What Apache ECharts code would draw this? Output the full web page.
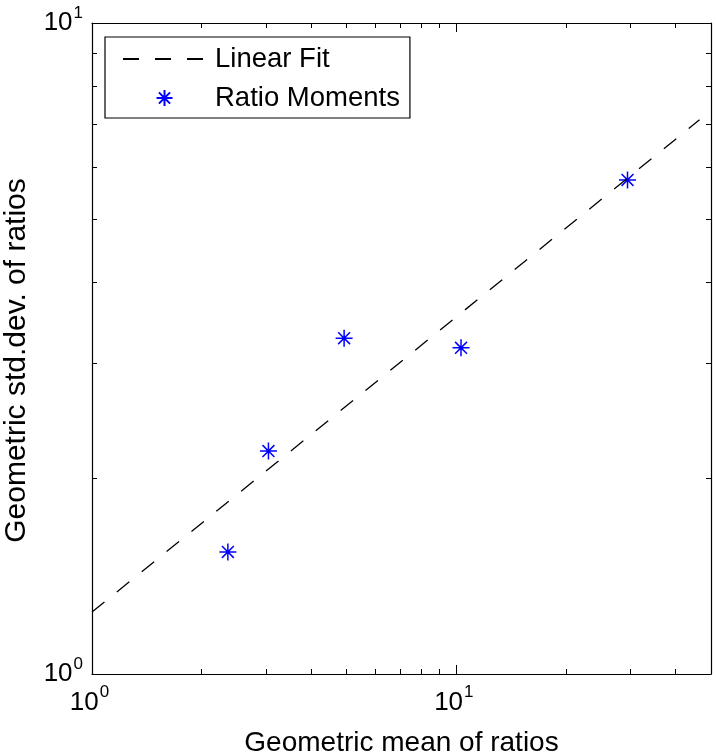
<!DOCTYPE html>
<html>
<head>
<meta charset="utf-8">
<script src="https://cdn.jsdelivr.net/npm/echarts@6/dist/echarts.min.js"></script>
<style>
html,body{margin:0;padding:0;background:#fff;}
#chart{width:716px;height:754px;}
</style>
</head>
<body>
<div id="chart"></div>
<script>
// ---- data ----
var meanRatios = [2.36, 3.05, 4.92, 10.3, 29.5];
var stdRatios  = [1.54, 2.20, 3.28, 3.17, 5.74];
var fitX = [1, 46.5];
var fitY = [1.245, 7.10];
var xMajorTicks = [1, 10];
var xMinorTicks = [2, 3, 4, 5, 6, 7, 8, 9, 20, 30, 40];
var yMajorTicks = [1, 10];
var yMinorTicks = [2, 3, 4, 5, 6, 7, 8, 9];
var xRange = [1, 50];
var yRange = [1, 10];
var legendNames = ['Linear Fit', 'Ratio Moments'];
var xTitle = 'Geometric mean of ratios';
var yTitle = 'Geometric std.dev. of ratios';

var FONT = '"Liberation Sans", Arial, Helvetica, sans-serif';
var chart = echarts.init(document.getElementById('chart'));

function powLabel(v) {
  var e = Math.round(Math.log(v) / Math.LN10);
  return '{b|10}{s|' + e + '}';
}
var richLbl = {
  b: {fontSize: 26, fontFamily: FONT, color: '#000'},
  s: {fontSize: 17, fontFamily: FONT, color: '#000', padding: [0, 0, 20, 1]}
};

function xAxisDef(pos, major, withLabel) {
  return {
    type: 'log', logBase: 10, min: xRange[0], max: xRange[1], position: pos,
    axisLine: {show: major, lineStyle: {color: '#000', width: 1.2}},
    axisTick: {show: true, inside: true, length: major ? 9 : 5,
      customValues: major ? xMajorTicks : xMinorTicks,
      lineStyle: {color: '#000', width: 1}},
    axisLabel: {show: withLabel, customValues: xMajorTicks, formatter: powLabel,
      rich: richLbl, margin: 10, padding: [0, 5, 0, 0]},
    splitLine: {show: false}, minorTick: {show: false}, minorSplitLine: {show: false},
    name: withLabel ? xTitle : '', nameLocation: 'middle', nameGap: 55,
    nameTextStyle: {fontSize: 28, fontFamily: FONT, color: '#000'}
  };
}
function yAxisDef(pos, major, withLabel) {
  return {
    type: 'log', logBase: 10, min: yRange[0], max: yRange[1], position: pos,
    axisLine: {show: major, lineStyle: {color: '#000', width: 1.2}},
    axisTick: {show: true, inside: true, length: major ? 9 : 5,
      customValues: major ? yMajorTicks : yMinorTicks,
      lineStyle: {color: '#000', width: 1}},
    axisLabel: {show: withLabel, customValues: yMajorTicks, formatter: powLabel,
      rich: richLbl, margin: 9},
    splitLine: {show: false}, minorTick: {show: false}, minorSplitLine: {show: false},
    name: withLabel ? yTitle : '', nameLocation: 'middle', nameGap: 60,
    nameTextStyle: {fontSize: 30, fontFamily: FONT, color: '#000', padding: [0, 24, 0, 0]}
  };
}

var STAR = 'path://M10 0 L10 20 M0 10 L20 10 M3 3 L17 17 M3 17 L17 3';

chart.setOption({
  animation: false,
  backgroundColor: '#fff',
  grid: {left: 92, top: 23, right: 5, bottom: 80, show: false,
         containLabel: false, outerBoundsMode: 'none'},
  xAxis: [
    xAxisDef('bottom', true, true),
    xAxisDef('bottom', false, false),
    xAxisDef('top', true, false),
    xAxisDef('top', false, false)
  ],
  yAxis: [
    yAxisDef('left', true, true),
    yAxisDef('left', false, false),
    yAxisDef('right', true, false),
    yAxisDef('right', false, false)
  ],
  legend: {
    orient: 'vertical', left: 105, top: 37,
    data: [
      {name: legendNames[0], itemStyle: {opacity: 0}},
      {name: legendNames[1]}
    ],
    backgroundColor: '#fff', borderColor: '#000', borderWidth: 1.2,
    padding: [8, 10, 6, 17],
    itemWidth: 83, itemHeight: 16, itemGap: 11,
    textStyle: {fontSize: 27.5, fontFamily: FONT, color: '#000', lineHeight: 26, padding: [0, 0, 0, 4]}
  },
  series: [
    {
      name: legendNames[0], type: 'line', xAxisIndex: 0, yAxisIndex: 0,
      data: fitX.map(function (x, i) { return [x, fitY[i]]; }),
      symbol: 'none', silent: true,
      lineStyle: {color: '#000', width: 1.3, type: [16, 16]},
      itemStyle: {color: '#000'}
    },
    {
      name: legendNames[1], type: 'scatter', xAxisIndex: 0, yAxisIndex: 0,
      data: meanRatios.map(function (x, i) { return [x, stdRatios[i]]; }),
      symbol: STAR, symbolSize: 17,
      itemStyle: {color: 'rgba(0,0,0,0)', borderColor: '#0000ff', borderWidth: 1.5, opacity: 1}
    }
  ]
});
</script>
</body>
</html>
